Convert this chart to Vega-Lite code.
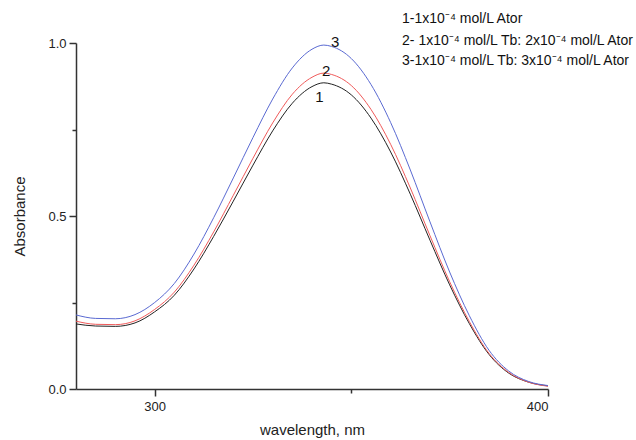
{
  "$schema": "https://vega.github.io/schema/vega-lite/v6.json",
  "width": 472,
  "height": 346,
  "autosize": {"type": "none"},
  "padding": {"left": 76, "top": 43, "right": 88, "bottom": 51},
  "background": "white",
  "config": {
    "view": {"stroke": null},
    "font": "Liberation Sans",
    "axis": {
      "grid": false,
      "domainColor": "#333333",
      "tickColor": "#333333",
      "domainWidth": 1.5,
      "tickWidth": 1.5,
      "labelColor": "#222222",
      "titleColor": "#222222",
      "labelFont": "Liberation Sans",
      "titleFont": "Liberation Sans",
      "titleFontWeight": "normal",
      "labelFontSize": 13,
      "titleFontSize": 15
    }
  },
  "datasets": {
    "spectra": [
      {"series": "1", "wl": 280, "abs": 0.188}, {"series": "1", "wl": 285, "abs": 0.182}, {"series": "1", "wl": 290, "abs": 0.181}, {"series": "1", "wl": 295, "abs": 0.191}, {"series": "1", "wl": 300, "abs": 0.223}, {"series": "1", "wl": 305, "abs": 0.271}, {"series": "1", "wl": 310, "abs": 0.347}, {"series": "1", "wl": 315, "abs": 0.441}, {"series": "1", "wl": 320, "abs": 0.543}, {"series": "1", "wl": 325, "abs": 0.647}, {"series": "1", "wl": 330, "abs": 0.746}, {"series": "1", "wl": 335, "abs": 0.826}, {"series": "1", "wl": 340, "abs": 0.874}, {"series": "1", "wl": 343, "abs": 0.885}, {"series": "1", "wl": 345, "abs": 0.881}, {"series": "1", "wl": 350, "abs": 0.850}, {"series": "1", "wl": 355, "abs": 0.783}, {"series": "1", "wl": 360, "abs": 0.685}, {"series": "1", "wl": 365, "abs": 0.563}, {"series": "1", "wl": 370, "abs": 0.430}, {"series": "1", "wl": 375, "abs": 0.301}, {"series": "1", "wl": 380, "abs": 0.189}, {"series": "1", "wl": 385, "abs": 0.100}, {"series": "1", "wl": 390, "abs": 0.046}, {"series": "1", "wl": 395, "abs": 0.020}, {"series": "1", "wl": 400, "abs": 0.009},
      {"series": "2", "wl": 280, "abs": 0.196}, {"series": "2", "wl": 285, "abs": 0.187}, {"series": "2", "wl": 290, "abs": 0.186}, {"series": "2", "wl": 295, "abs": 0.197}, {"series": "2", "wl": 300, "abs": 0.230}, {"series": "2", "wl": 305, "abs": 0.280}, {"series": "2", "wl": 310, "abs": 0.358}, {"series": "2", "wl": 315, "abs": 0.454}, {"series": "2", "wl": 320, "abs": 0.560}, {"series": "2", "wl": 325, "abs": 0.667}, {"series": "2", "wl": 330, "abs": 0.769}, {"series": "2", "wl": 335, "abs": 0.852}, {"series": "2", "wl": 340, "abs": 0.901}, {"series": "2", "wl": 343, "abs": 0.913}, {"series": "2", "wl": 345, "abs": 0.909}, {"series": "2", "wl": 350, "abs": 0.877}, {"series": "2", "wl": 355, "abs": 0.808}, {"series": "2", "wl": 360, "abs": 0.707}, {"series": "2", "wl": 365, "abs": 0.581}, {"series": "2", "wl": 370, "abs": 0.443}, {"series": "2", "wl": 375, "abs": 0.310}, {"series": "2", "wl": 380, "abs": 0.195}, {"series": "2", "wl": 385, "abs": 0.103}, {"series": "2", "wl": 390, "abs": 0.048}, {"series": "2", "wl": 395, "abs": 0.020}, {"series": "2", "wl": 400, "abs": 0.008},
      {"series": "3", "wl": 280, "abs": 0.214}, {"series": "3", "wl": 285, "abs": 0.204}, {"series": "3", "wl": 290, "abs": 0.203}, {"series": "3", "wl": 295, "abs": 0.215}, {"series": "3", "wl": 300, "abs": 0.250}, {"series": "3", "wl": 305, "abs": 0.305}, {"series": "3", "wl": 310, "abs": 0.390}, {"series": "3", "wl": 315, "abs": 0.495}, {"series": "3", "wl": 320, "abs": 0.610}, {"series": "3", "wl": 325, "abs": 0.727}, {"series": "3", "wl": 330, "abs": 0.838}, {"series": "3", "wl": 335, "abs": 0.928}, {"series": "3", "wl": 340, "abs": 0.982}, {"series": "3", "wl": 343, "abs": 0.994}, {"series": "3", "wl": 345, "abs": 0.990}, {"series": "3", "wl": 350, "abs": 0.955}, {"series": "3", "wl": 355, "abs": 0.880}, {"series": "3", "wl": 360, "abs": 0.770}, {"series": "3", "wl": 365, "abs": 0.633}, {"series": "3", "wl": 370, "abs": 0.483}, {"series": "3", "wl": 375, "abs": 0.338}, {"series": "3", "wl": 380, "abs": 0.212}, {"series": "3", "wl": 385, "abs": 0.112}, {"series": "3", "wl": 390, "abs": 0.052}, {"series": "3", "wl": 395, "abs": 0.022}, {"series": "3", "wl": 400, "abs": 0.010}
    ],
    "labels": [
      {"label": "1", "wl": 341.9, "abs": 0.845},
      {"label": "2", "wl": 343.6, "abs": 0.920},
      {"label": "3", "wl": 345.9, "abs": 1.004}
    ],
    "legend": [
      {"text": "1-1x10⁻⁴ mol/L Ator", "wl": 362.9, "abs": 1.069},
      {"text": "2- 1x10⁻⁴ mol/L Tb: 2x10⁻⁴ mol/L Ator", "wl": 362.9, "abs": 1.006},
      {"text": "3-1x10⁻⁴ mol/L Tb: 3x10⁻⁴ mol/L Ator", "wl": 362.9, "abs": 0.948}
    ]
  },
  "layer": [
    {
      "data": {"name": "spectra"},
      "mark": {"type": "line", "strokeWidth": 1, "interpolate": "monotone"},
      "encoding": {
        "x": {"field": "wl", "type": "quantitative", "scale": {"domain": [280, 400], "nice": false, "zero": false},
              "axis": {"orient": "bottom", "values": [300, 400], "tickSize": 7, "labelPadding": 4, "title": "wavelength, nm", "titlePadding": 9}},
        "y": {"field": "abs", "type": "quantitative", "scale": {"domain": [0, 1], "nice": false},
              "axis": {"orient": "left", "values": [0, 0.5, 1], "format": ".1f", "tickSize": 7, "labelPadding": 3, "title": "Absorbance", "titlePadding": 20}},
        "color": {"field": "series", "type": "nominal", "scale": {"domain": ["1", "2", "3"], "range": ["#222222", "#f05a5a", "#5a6ad2"]}, "legend": null}
      }
    },
    {
      "data": {"name": "labels"},
      "mark": {"type": "text", "fontSize": 15, "font": "Liberation Sans", "color": "#111111", "baseline": "middle", "align": "center"},
      "encoding": {
        "x": {"field": "wl", "type": "quantitative", "axis": {"orient": "bottom", "values": [350], "tickSize": 4, "labels": false, "domain": false, "title": null}},
        "y": {"field": "abs", "type": "quantitative", "axis": {"orient": "left", "values": [0.25, 0.75], "tickSize": 4, "labels": false, "domain": false, "title": null}},
        "text": {"field": "label"}
      }
    },
    {
      "data": {"name": "legend"},
      "mark": {"type": "text", "fontSize": 14, "font": "Liberation Sans", "color": "#111111", "baseline": "middle", "align": "left"},
      "encoding": {
        "x": {"field": "wl", "type": "quantitative", "axis": null},
        "y": {"field": "abs", "type": "quantitative", "axis": null},
        "text": {"field": "text"}
      }
    }
  ],
  "resolve": {"axis": {"x": "independent", "y": "independent"}}
}
